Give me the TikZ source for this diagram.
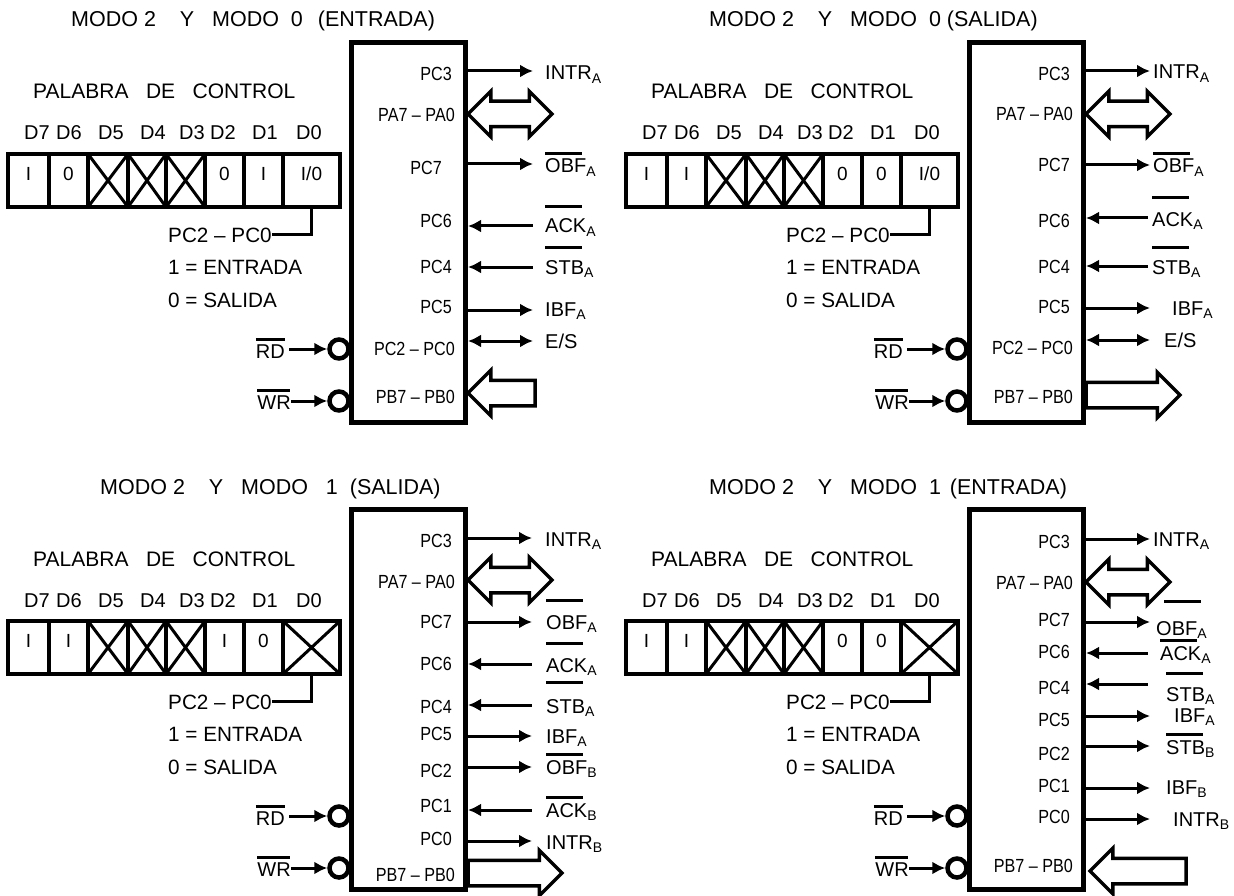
\documentclass[tikz,border=0pt]{standalone}
\usepackage{fontspec}
\usetikzlibrary{arrows.meta,shapes.arrows}
\setmainfont{Liberation Sans}
\newfontfamily\pinfont[FakeStretch=0.85]{Liberation Sans}
\newcommand{\subi}[1]{\textsubscript{#1}}
\newcommand{\raya}[3][37]{\rlap{\rule[#2pt]{#1pt}{3pt}}#3}
\newcommand{\ieo}{I/0}
% senal: id, pin text, pin pos, arrow end, label, label pos, tip style
\newcommand{\senal}[7]{
  \node[pin] (pin#1) at (#3) {#2};
  \coordinate (ext#1) at (#4);
  \node[sig] (sig#1) at (#6) {#5};
  \draw[sigline,#7] (chip.east |- ext#1) -- (ext#1);
}
\newcommand{\cruz}[1]{\draw[cruzline] (#1.north west) -- (#1.south east) (#1.north east) -- (#1.south west);}
% planta: title, title x, values of D7 D6 D2 D1 D0
\newcommand{\planta}[7]{
  \node[titulo] (tit) at (#2,27) {#1};
  \node[palabra] (pal) at (33,99) {PALABRA\ \ \ DE\ \ \ CONTROL};
  \foreach \i/\xa/\xb/\et/\lx/\val in {7/8/49/D7/37/#3, 6/49/88/D6/69/#4, 5/88/128/D5/111/{}, 4/128/166/D4/153/{}, 3/166/205/D3/192/{}, 2/205/244/D2/223/#5, 1/244/283/D1/265/#6, 0/283/340/D0/309/#7}{
    \node[celda, minimum width={(\xb-\xa)*1pt}] (d\i) at ({(\xa+\xb)/2},180.5) {\val};
    \node[bitname] (n\i) at (\lx,140) {\et};
  }
  \foreach \i in {5,4,3}{\cruz{d\i}}
  \node[nota] (pc) at (168,242) {PC2 -- PC0};
  \node[nota] (uno) at (168,274) {1 = ENTRADA};
  \node[nota] (cero) at (168,307) {0 = SALIDA};
  \draw[sigline] (d0.south) |- (pc.east);
  \node[burbuja] (nrd) at (339,349) {};
  \node[burbuja] (nwr) at (339,401) {};
  \node[draw, line width=5pt, minimum width=114pt, minimum height=380pt] (chip) at (408.5,232.5) {};
  \node[sig, anchor=base east] (rd) at (285,358) {\raya[29]{17}{RD}};
  \node[sig, anchor=base east] (wr) at (291,409) {\raya[33]{17}{WR}};
  \draw[sigline,sale] (rd.east |- nrd) ++(4pt,0) -- (nrd);
  \draw[sigline,sale] (wr.east |- nwr) -- (nwr);
}
\begin{document}
\begin{tikzpicture}[
    x=1pt, y=-1pt,
    titulo/.style={anchor=base west, inner sep=0pt, font=\fontsize{21.5}{24}\selectfont},
    palabra/.style={anchor=base west, inner sep=0pt, font=\fontsize{21}{24}\selectfont},
    bitname/.style={anchor=base, inner sep=0pt, font=\fontsize{20}{24}\selectfont},
    nota/.style={anchor=base west, inner sep=0pt, font=\fontsize{20.7}{24}\selectfont},
    sig/.style={anchor=base west, inner sep=0pt, font=\fontsize{20}{24}\selectfont},
    pin/.style={anchor=base east, inner sep=0pt, font=\pinfont\fontsize{19}{22}\selectfont},
    celda/.style={draw, line width=4pt, outer sep=0pt, inner sep=0pt, minimum height=53pt, text height=10pt, text depth=10pt, font=\fontsize{19}{22}\selectfont},
    cruzline/.style={line width=3pt},
    sigline/.style={line width=3pt},
    sale/.style={-{Latex[length=13pt,width=13pt]}},
    entra/.style={{Latex[length=13pt,width=13pt]}-},
    ambos/.style={{Latex[length=13pt,width=13pt]}-{Latex[length=13pt,width=13pt]}},
    burbuja/.style={draw, circle, line width=4.5pt, fill=white, minimum size=19pt, inner sep=0pt},
    bus/.style={draw, line width=3.5pt, inner sep=11pt, outer sep=0pt, fill=white},
    busdoble/.style={bus, double arrow, minimum height=84pt, double arrow head extend=10pt, double arrow head indent=0pt},
    busuno/.style={bus, single arrow, single arrow head extend=10pt, single arrow head indent=0pt}
]
\useasboundingbox (0,0) rectangle (1234,896);

\begin{scope}[name prefix=a-]
\planta{MODO 2\ \ \ \ Y\ \ \ MODO\ \ 0\ \ \hspace{3pt}(ENTRADA)}{71}{I}{0}{0}{I}{\ieo}
\senal{c3}{PC3}{452,81}{533,71}{INTR\subi{A}}{545,80}{sale}
\senal{c7}{PC7}{442,175}{533,164}{\raya{18}{OBF\subi{A}}}{545,173}{sale}
\senal{c6}{PC6}{452,227}{533,226}{\raya{25}{ACK\subi{A}}}{545,233}{entra}
\senal{c4}{PC4}{452,273}{533,267}{\raya{25}{STB\subi{A}}}{545,274}{entra}
\senal{c5}{PC5}{452,313}{533,310}{IBF\subi{A}}{545,316}{sale}
\senal{es}{PC2 – PC0}{455,355}{533,341}{E/S}{545,348}{ambos}
\node[pin] (pa) at (455,122) {PA7 – PA0};
\node[pin] (pb) at (455,403) {PB7 – PB0};
\node[busdoble] (busa) at (510,114) {};
\node[busuno, minimum height=67pt, shape border rotate=180, anchor=tip] (busb) at (468,393) {};
\end{scope}

\begin{scope}[shift={(618,0)}, name prefix=b-]
\planta{MODO 2\ \ \ \ Y\ \ \ MODO\ \ 0\ (SALIDA)}{91}{I}{I}{0}{0}{\ieo}
\senal{c3}{PC3}{452,81}{532,71}{INTR\subi{A}}{535,79}{sale}
\senal{c7}{PC7}{452,172}{532,165}{\raya{18}{OBF\subi{A}}}{535,173}{sale}
\senal{c6}{PC6}{452,227}{530,218}{\raya{27}{ACK\subi{A}}}{534,226}{entra}
\senal{c4}{PC4}{452,273}{530,266}{\raya{25}{STB\subi{A}}}{534,274}{entra}
\senal{c5}{PC5}{452,313}{532,308}{IBF\subi{A}}{554,315}{sale}
\senal{es}{PC2 – PC0}{455,354}{532,340}{E/S}{546,347}{ambos}
\node[pin] (pa) at (455,121) {PA7 – PA0};
\node[pin] (pb) at (455,403) {PB7 – PB0};
\node[busdoble] (busa) at (510,114) {};
\node[busuno, minimum height=94pt, anchor=tail] (busb) at (468,395) {};
\end{scope}

\begin{scope}[shift={(0,467)}, name prefix=c-]
\planta{MODO 2\ \ \ \ Y\ \ \ MODO\ \ \ 1\ \ (SALIDA)}{100}{I}{I}{I}{0}{}
\cruz{d0}
\senal{c3}{PC3}{452,80}{532,71}{INTR\subi{A}}{545,79}{sale}
\senal{c7}{PC7}{452,161}{532,155}{\raya{27}{OBF\subi{A}}}{546,162}{sale}
\senal{c6}{PC6}{452,203}{532,197}{\raya{27}{ACK\subi{A}}}{546,205}{entra}
\senal{c4}{PC4}{452,246}{532,238}{\raya{29}{STB\subi{A}}}{546,246}{entra}
\senal{c5}{PC5}{452,273}{532,269}{IBF\subi{A}}{546,276}{sale}
\senal{c2}{PC2}{452,310}{532,300}{\raya{18}{OBF\subi{B}}}{546,307}{sale}
\senal{c1}{PC1}{452,345}{532,343}{\raya{18}{ACK\subi{B}}}{546,350}{entra}
\senal{c0}{PC0}{452,378}{532,374}{INTR\subi{B}}{546,382}{sale}
\node[pin] (pa) at (455,121) {PA7 – PA0};
\node[pin] (pb) at (455,414) {PB7 – PB0};
\node[busdoble] (busa) at (510,113) {};
\node[busuno, minimum height=94pt, anchor=tail] (busb) at (468,406) {};
\end{scope}

\begin{scope}[shift={(618,467)}, name prefix=d-]
\planta{MODO 2\ \ \ \ Y\ \ \ MODO\ \ 1\ \hspace{3pt}(ENTRADA)}{91}{I}{I}{0}{0}{}
\cruz{d0}
\senal{c3}{PC3}{452,81}{532,72}{INTR\subi{A}}{535,79}{sale}
\senal{c7}{PC7}{452,159}{532,155}{\raya{32}{\hspace*{-8pt}OBF\subi{A}}}{546,168}{sale}
\senal{c6}{PC6}{452,191}{530,186}{\raya{18}{ACK\subi{A}}}{542,193}{entra}
\senal{c4}{PC4}{452,227}{530,217}{\raya{26}{STB\subi{A}}}{548,234}{entra}
\senal{c5}{PC5}{452,259}{532,249}{IBF\subi{A}}{556,255}{sale}
\senal{c2}{PC2}{452,293}{532,279}{\raya{18}{STB\subi{B}}}{548,287}{sale}
\senal{c1}{PC1}{452,325}{532,321}{IBF\subi{B}}{548,327}{sale}
\senal{c0}{PC0}{452,356}{532,352}{INTR\subi{B}}{555,359}{sale}
\node[pin] (pa) at (455,122) {PA7 – PA0};
\node[pin] (pb) at (455,405) {PB7 – PB0};
\node[busdoble] (busa) at (510,115) {};
\node[busuno, minimum height=96pt, shape border rotate=180, anchor=tip] (busb) at (472,404) {};
\end{scope}
\end{tikzpicture}
\end{document}
